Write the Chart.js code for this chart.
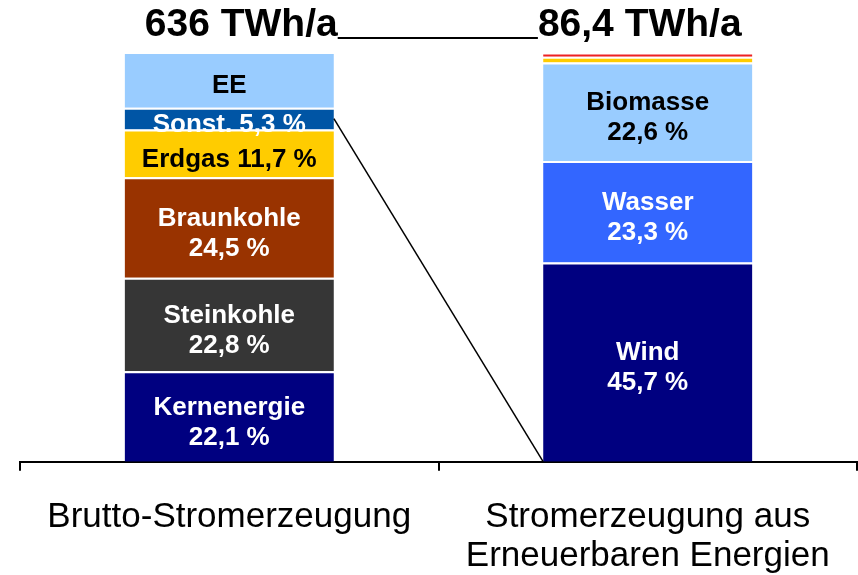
<!DOCTYPE html>
<html>
<head>
<meta charset="utf-8">
<script src="https://cdn.jsdelivr.net/npm/chart.js@4.4.0/dist/chart.umd.min.js"></script>
<style>
  body { margin: 0; background: #fff; }
  #wrap { width: 858px; height: 575px; position: relative; }
</style>
</head>
<body>
<div id="wrap"><canvas id="resultChart"></canvas></div>
<script>
const categories = ['Brutto-Stromerzeugung', ['Stromerzeugung aus', 'Erneuerbaren Energien']];
const totals = ['636 TWh/a', '86,4 TWh/a'];

// Brutto-Stromerzeugung, Anteile in %
const grossLabels = ['Kernenergie', 'Steinkohle', 'Braunkohle', 'Erdgas', 'Sonst.', 'EE'];
const grossShares = [22.1, 22.8, 24.5, 11.7, 5.3, 13.6];
const grossShowValue = [true, true, true, true, true, false];

// Erneuerbare, Anteile in % (die zwei dünnen Streifen oben ohne Beschriftung)
const renewLabels = ['Wind', 'Wasser', 'Biomasse', 'Photovoltaik', 'Sonstige'];
const renewShares = [45.7, 23.3, 22.6, 1.3, 1.0];
const renewShowLabel = [true, true, true, false, false];

const grossColors = ['#000080', '#363636', '#993300', '#FFCC00', '#0055A5', '#99CCFF'];
const grossText = ['#fff', '#fff', '#fff', '#000', '#fff', '#000'];
const renewColors = ['#000080', '#3366FF', '#99CCFF', '#FFCC00', '#EE2222'];
const renewText = ['#fff', '#fff', '#000', '#000', '#000'];

const FONT = '"Liberation Sans", Arial, sans-serif';
const fmt = v => v.toFixed(1).replace('.', ',') + ' %';

const datasets = [];
grossLabels.forEach((name, i) => {
    datasets.push({
        label: name,
        data: [grossShares[i], null],
        backgroundColor: grossColors[i],
        borderColor: '#fff',
        borderWidth: { top: 2, left: 0, right: 0, bottom: 0 },
        borderSkipped: false,
        stack: 'all',
        yAxisID: 'y',
        _text: grossText[i],
        _show: true,
        _value: grossShowValue[i]
    });
});
renewLabels.forEach((name, i) => {
    datasets.push({
        label: name,
        data: [null, renewShares[i]],
        backgroundColor: renewColors[i],
        borderColor: '#fff',
        borderWidth: { top: 2, left: 0, right: 0, bottom: 0 },
        borderSkipped: false,
        stack: 'all',
        yAxisID: 'y2',
        _text: renewText[i],
        _show: renewShowLabel[i],
        _value: true
    });
});

const segmentLabels = {
    id: 'segmentLabels',
    afterDatasetsDraw(chart) {
        const ctx = chart.ctx;
        ctx.save();
        ctx.font = 'bold 26px ' + FONT;
        ctx.textAlign = 'center';
        ctx.textBaseline = 'middle';
        chart.data.datasets.forEach((ds, di) => {
            if (!ds._show) return;
            const meta = chart.getDatasetMeta(di);
            meta.data.forEach((el, i) => {
                const v = ds.data[i];
                if (v === null || v === undefined) return;
                const cy = (el.y + el.base) / 2 + 6;
                const h = Math.abs(el.base - el.y);
                ctx.fillStyle = ds._text;
                if (!ds._value) {
                    ctx.fillText(ds.label, el.x, cy);
                } else if (h < 60) {
                    ctx.fillText(ds.label + ' ' + fmt(v), el.x, cy);
                } else {
                    ctx.fillText(ds.label, el.x, cy - 15);
                    ctx.fillText(fmt(v), el.x, cy + 15);
                }
            });
        });
        ctx.restore();
    }
};

const titlesAndLines = {
    id: 'titlesAndLines',
    afterDraw(chart) {
        const ctx = chart.ctx;
        const xs = chart.scales.x;
        const y = chart.scales.y;
        const area = chart.chartArea;
        const shift = [12, -8];
        const baseline = 36;
        ctx.save();
        ctx.font = 'bold 39px ' + FONT;
        ctx.fillStyle = '#000';
        ctx.textAlign = 'center';
        ctx.textBaseline = 'alphabetic';
        const ends = [];
        totals.forEach((t, i) => {
            const cx = xs.getPixelForValue(i) + shift[i];
            ctx.fillText(t, cx, baseline);
            const w = ctx.measureText(t).width;
            ends.push([cx - w / 2, cx + w / 2]);
        });
        ctx.strokeStyle = '#000';
        ctx.lineWidth = 2;
        ctx.beginPath();
        ctx.moveTo(ends[0][1], baseline + 2);
        ctx.lineTo(ends[1][0], baseline + 2);
        ctx.stroke();

        // Verbindungslinie vom EE-Anteil zur rechten Säule
        const leftBar = chart.getDatasetMeta(0).data[0];
        const rightBar = chart.getDatasetMeta(grossLabels.length).data[1];
        const sonstMid = grossShares.slice(0, 4).reduce((a, b) => a + b, 0) + grossShares[4] / 2;
        ctx.lineWidth = 1.5;
        ctx.beginPath();
        ctx.moveTo(leftBar.x + leftBar.width / 2, y.getPixelForValue(sonstMid));
        ctx.lineTo(rightBar.x - rightBar.width / 2, area.bottom);
        ctx.stroke();
        ctx.restore();
    }
};

new Chart(document.getElementById('resultChart'), {
    type: 'bar',
    data: { labels: categories, datasets: datasets },
    options: {
        responsive: true,
        maintainAspectRatio: false,
        animation: false,
        layout: { padding: { top: 52, left: 20, right: 1, bottom: -28 } },
        plugins: { legend: { display: false }, tooltip: { enabled: false } },
        datasets: { bar: { categoryPercentage: 1, barPercentage: 0.5, skipNull: true } },
        scales: {
            x: {
                stacked: true,
                border: { display: true, color: '#000', width: 2 },
                grid: { display: true, offset: true, drawOnChartArea: false, drawTicks: true, tickLength: 9, color: '#000', lineWidth: 2 },
                ticks: {
                    color: '#000',
                    font: { family: FONT, size: 35, lineHeight: 1.09 },
                    padding: 28,
                    maxRotation: 0,
                    autoSkip: false
                }
            },
            y: { stacked: true, display: false, min: 0, max: 100 },
            y2: { stacked: true, display: false, min: 0, max: 94 }
        }
    },
    plugins: [segmentLabels, titlesAndLines]
});
</script>
</body>
</html>
